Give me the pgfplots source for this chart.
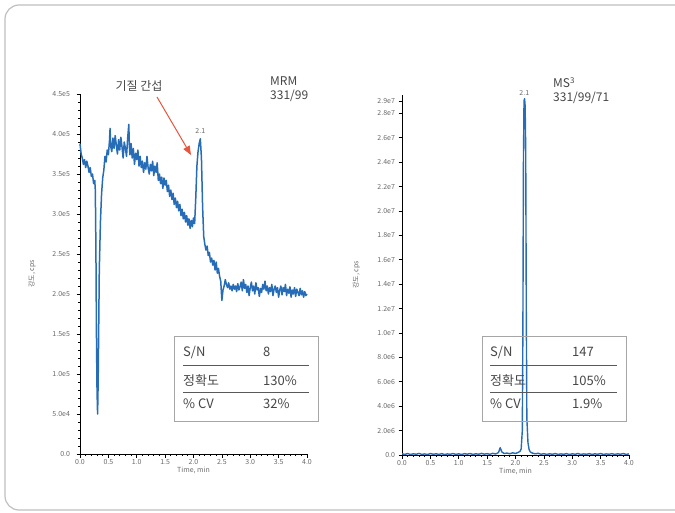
\documentclass[border=0pt]{standalone}
\usepackage{fontspec}
\setmainfont{Noto Sans CJK KR}
\usepackage{pgfplots}
\pgfplotsset{compat=1.18}
\usetikzlibrary{arrows.meta}
\definecolor{trace}{RGB}{38,108,182}
\definecolor{txt}{RGB}{70,70,70}
\definecolor{tick}{RGB}{105,105,105}
\definecolor{arrowred}{RGB}{232,84,60}
\pgfplotsset{
  chrom/.style={
    scale only axis, axis lines=left, axis line style={-,black,line width=0.9pt},
    enlargelimits=false, clip=false,
    xmin=0, xmax=4, width=227pt, height=360pt,
    xtick={0,0.5,...,4}, xticklabels={0.0,0.5,1.0,1.5,2.0,2.5,3.0,3.5,4.0},
    minor x tick num=4,
    tick align=outside, major tick length=3.5pt, minor tick length=2pt,
    tick style={black, line width=0.7pt},
    /pgf/number format/assume math mode=true,
    ticklabel style={font=\fontsize{7}{8}\selectfont, text=tick},
    xticklabel style={yshift=1.5pt},
    xlabel={Time, min}, xlabel style={font=\fontsize{7}{8}\selectfont, text=tick, yshift=4pt},
    ylabel style={font=\fontsize{7}{8}\selectfont, text=tick},
  }
}
\begin{document}
\begin{tikzpicture}[x=1pt,y=1pt]
\useasboundingbox (0pt,0pt) rectangle (675pt,512pt);
\draw[black!25, line width=1.2pt, rounded corners=14pt] (5pt,2pt) rectangle (690pt,507pt);

% ---------- left: MRM ----------
\begin{axis}[chrom, at={(80pt,58pt)}, anchor=south west,
  ymin=0, ymax=4.5,
  ytick={0,0.5,...,4.5},
  yticklabels={0.0,5.0e4,1.0e5,1.5e5,2.0e5,2.5e5,3.0e5,3.5e5,4.0e5,4.5e5},
  minor y tick num=4,
  yticklabel style={xshift=-3pt},
  ylabel={강도, cps}, ylabel style={at={(axis description cs:-0.18,0.5)}},
]
\addplot[trace, line width=1.5pt, line join=round] coordinates {
(0.00,3.88)(0.02,3.75)(0.04,3.70)(0.06,3.62)(0.08,3.68)(0.10,3.58)(0.12,3.66)(0.14,3.60)
(0.16,3.52)(0.18,3.58)(0.20,3.47)(0.22,3.50)(0.24,3.38)(0.26,3.42)(0.27,3.30)(0.28,2.60)
(0.29,1.50)(0.30,0.80)(0.31,0.50)(0.32,0.90)(0.33,1.60)(0.34,2.30)(0.36,2.90)(0.38,3.25)
(0.40,3.45)(0.42,3.55)(0.44,3.72)(0.46,3.65)(0.48,3.80)(0.50,3.74)(0.52,3.92)(0.53,4.07)
(0.54,3.85)(0.56,3.78)(0.58,3.95)(0.60,3.82)(0.62,3.98)(0.64,3.86)(0.66,3.75)(0.68,3.93)
(0.70,3.80)(0.72,3.96)(0.74,3.84)(0.76,3.70)(0.78,3.90)(0.80,3.82)(0.82,3.72)(0.84,3.95)
(0.86,4.12)(0.87,3.85)(0.88,3.74)(0.90,3.88)(0.92,3.70)(0.94,3.82)(0.96,3.62)(0.98,3.76)
(1.00,3.68)(1.02,3.80)(1.04,3.60)(1.06,3.72)(1.08,3.58)(1.10,3.66)(1.12,3.52)(1.14,3.64)
(1.16,3.56)(1.18,3.72)(1.20,3.58)(1.22,3.50)(1.24,3.62)(1.26,3.54)(1.28,3.66)(1.30,3.48)
(1.32,3.60)(1.34,3.52)(1.36,3.64)(1.38,3.42)(1.40,3.50)(1.42,3.38)(1.44,3.46)(1.46,3.32)
(1.48,3.45)(1.50,3.36)(1.52,3.42)(1.54,3.28)(1.56,3.36)(1.58,3.22)(1.60,3.30)(1.62,3.18)
(1.64,3.26)(1.66,3.12)(1.68,3.20)(1.70,3.08)(1.72,3.16)(1.74,3.04)(1.76,3.12)(1.78,2.98)
(1.80,3.06)(1.82,2.94)(1.84,3.02)(1.86,2.90)(1.88,2.98)(1.90,2.86)(1.92,2.94)(1.94,2.82)
(1.96,2.92)(1.98,2.84)(2.00,2.95)(2.02,2.88)(2.04,3.20)(2.06,3.60)(2.08,3.78)(2.10,3.88)
(2.12,3.94)(2.14,3.70)(2.16,3.10)(2.18,2.72)(2.20,2.62)(2.22,2.55)(2.24,2.60)(2.26,2.48)
(2.28,2.52)(2.30,2.40)(2.32,2.45)(2.34,2.36)(2.36,2.42)(2.38,2.30)(2.40,2.40)(2.42,2.26)
(2.44,2.32)(2.46,2.22)(2.48,2.16)(2.50,1.92)(2.52,2.05)(2.54,2.10)(2.56,2.18)(2.58,2.12)
(2.60,2.08)(2.62,2.14)(2.64,2.06)(2.66,2.10)(2.68,2.04)(2.70,2.12)(2.72,2.06)(2.74,2.10)
(2.76,2.03)(2.78,2.13)(2.80,2.05)(2.82,2.09)(2.84,2.15)(2.86,2.04)(2.88,2.18)(2.90,2.07)
(2.92,2.12)(2.94,2.02)(2.96,2.10)(2.98,1.98)(3.00,2.08)(3.02,2.15)(3.04,2.04)(3.06,2.10)
(3.08,2.00)(3.10,2.14)(3.12,2.05)(3.14,2.08)(3.16,1.97)(3.18,2.07)(3.20,2.02)(3.22,2.12)
(3.24,2.06)(3.26,2.16)(3.28,2.04)(3.30,2.10)(3.32,2.00)(3.34,2.08)(3.36,2.03)(3.38,2.12)
(3.40,1.98)(3.42,2.06)(3.44,2.10)(3.46,2.02)(3.48,2.08)(3.50,1.96)(3.52,2.05)(3.54,2.10)
(3.56,1.99)(3.58,2.08)(3.60,2.03)(3.62,2.12)(3.64,1.98)(3.66,2.06)(3.68,2.01)(3.70,2.09)
(3.72,1.96)(3.74,2.05)(3.76,2.00)(3.78,2.08)(3.80,1.97)(3.82,2.06)(3.84,2.02)(3.86,1.98)
(3.88,2.07)(3.90,1.99)(3.92,2.04)(3.94,1.96)(3.96,2.03)(3.98,1.98)(4.00,2.00)
};
\node[font=\fontsize{7}{8}\selectfont, text=tick, anchor=south] at (axis cs:2.12,3.96) {2.1};
\end{axis}

% ---------- right: MS3 ----------
\begin{axis}[chrom, at={(402pt,57pt)}, anchor=south west,
  ymin=0, ymax=29.5,
  ytick={0,2,4,6,8,10,12,14,16,18,20,22,24,26,28,29},
  yticklabels={0.0,2.0e6,4.0e6,6.0e6,8.0e6,1.0e7,1.2e7,1.4e7,1.6e7,1.8e7,2.0e7,2.2e7,2.4e7,2.6e7,2.8e7,2.9e7},
  minor y tick num=1,
  ylabel={강도, cps}, ylabel style={at={(axis description cs:-0.17,0.5)}},
]
\addplot[trace, line width=1.4pt, line join=round] coordinates {
(0.00,0.10)(0.05,0.05)(0.10,0.12)(0.15,0.04)(0.20,0.10)(0.25,0.06)(0.30,0.13)(0.35,0.05)
(0.40,0.09)(0.45,0.04)(0.50,0.12)(0.55,0.06)(0.60,0.10)(0.65,0.05)(0.70,0.11)(0.75,0.04)
(0.80,0.09)(0.85,0.06)(0.90,0.12)(0.95,0.05)(1.00,0.10)(1.05,0.04)(1.10,0.11)(1.15,0.07)
(1.20,0.12)(1.25,0.05)(1.30,0.10)(1.35,0.06)(1.40,0.13)(1.45,0.07)(1.50,0.11)(1.55,0.06)
(1.60,0.14)(1.65,0.08)(1.70,0.20)(1.73,0.60)(1.76,0.25)(1.80,0.12)(1.85,0.16)(1.90,0.10)
(1.95,0.18)(2.00,0.12)(2.05,0.22)(2.08,0.30)(2.10,0.50)(2.12,2.0)(2.13,10.0)(2.14,24.0)
(2.15,29.0)(2.16,29.2)(2.17,28.6)(2.18,25.0)(2.19,12.0)(2.20,3.0)(2.22,1.0)(2.24,0.45)
(2.26,0.25)(2.30,0.15)(2.35,0.10)(2.40,0.14)(2.45,0.06)(2.50,0.11)(2.55,0.05)(2.60,0.10)
(2.65,0.06)(2.70,0.12)(2.75,0.05)(2.80,0.09)(2.85,0.06)(2.90,0.11)(2.95,0.04)(3.00,0.10)
(3.05,0.06)(3.10,0.12)(3.15,0.05)(3.20,0.09)(3.25,0.06)(3.30,0.11)(3.35,0.05)(3.40,0.10)
(3.45,0.06)(3.50,0.12)(3.55,0.05)(3.60,0.09)(3.65,0.06)(3.70,0.11)(3.75,0.05)(3.80,0.10)
(3.85,0.06)(3.90,0.12)(3.95,0.05)(4.00,0.09)
};
\node[font=\fontsize{7}{8}\selectfont, text=tick, anchor=south] at (axis cs:2.155,29.2) {2.1};
\end{axis}

% ---------- annotations ----------
\node[font=\fontsize{12}{13}\selectfont, text=txt] at (139pt,426pt) {기질 간섭};
\draw[arrowred, line width=1pt, -{Triangle[length=9pt,width=7pt]}] (157pt,415pt) -- (191pt,357pt);
\node[font=\fontsize{12}{14}\selectfont, text=txt, anchor=north west, align=left, inner sep=0pt] at (270pt,435pt) {MRM\\331/99};
\node[font=\fontsize{12}{14}\selectfont, text=txt, anchor=north west, align=left, inner sep=0pt] at (553pt,435pt) {MS\textsuperscript{3}\\331/99/71};

% tables
\begin{scope}[font=\fontsize{13}{14}\selectfont]
\draw[black!35, line width=0.8pt] (174pt,176pt) rectangle (318pt,91pt);
\draw[black!65, line width=0.8pt] (183pt,147pt) -- (309pt,147pt);
\draw[black!65, line width=0.8pt] (183pt,120pt) -- (309pt,120pt);
\node[anchor=base west, text=txt, inner sep=0pt] at (183pt,156pt) {S/N};
\node[anchor=base west, text=txt, inner sep=0pt] at (263pt,156pt) {8};
\node[anchor=base west, text=txt, inner sep=0pt] at (183pt,127pt) {정확도};
\node[anchor=base west, text=txt, inner sep=0pt] at (263pt,127pt) {130\%};
\node[anchor=base west, text=txt, inner sep=0pt] at (183pt,103pt) {\% CV};
\node[anchor=base west, text=txt, inner sep=0pt] at (263pt,103pt) {32\%};

\draw[black!35, line width=0.8pt] (482pt,176pt) rectangle (626pt,91pt);
\draw[black!65, line width=0.8pt] (490pt,147pt) -- (617pt,147pt);
\draw[black!65, line width=0.8pt] (490pt,120pt) -- (617pt,120pt);
\node[anchor=base west, text=txt, inner sep=0pt] at (490pt,156pt) {S/N};
\node[anchor=base west, text=txt, inner sep=0pt] at (572pt,156pt) {147};
\node[anchor=base west, text=txt, inner sep=0pt] at (490pt,127pt) {정확도};
\node[anchor=base west, text=txt, inner sep=0pt] at (572pt,127pt) {105\%};
\node[anchor=base west, text=txt, inner sep=0pt] at (490pt,103pt) {\% CV};
\node[anchor=base west, text=txt, inner sep=0pt] at (572pt,103pt) {1.9\%};
\end{scope}
\end{tikzpicture}
\end{document}
